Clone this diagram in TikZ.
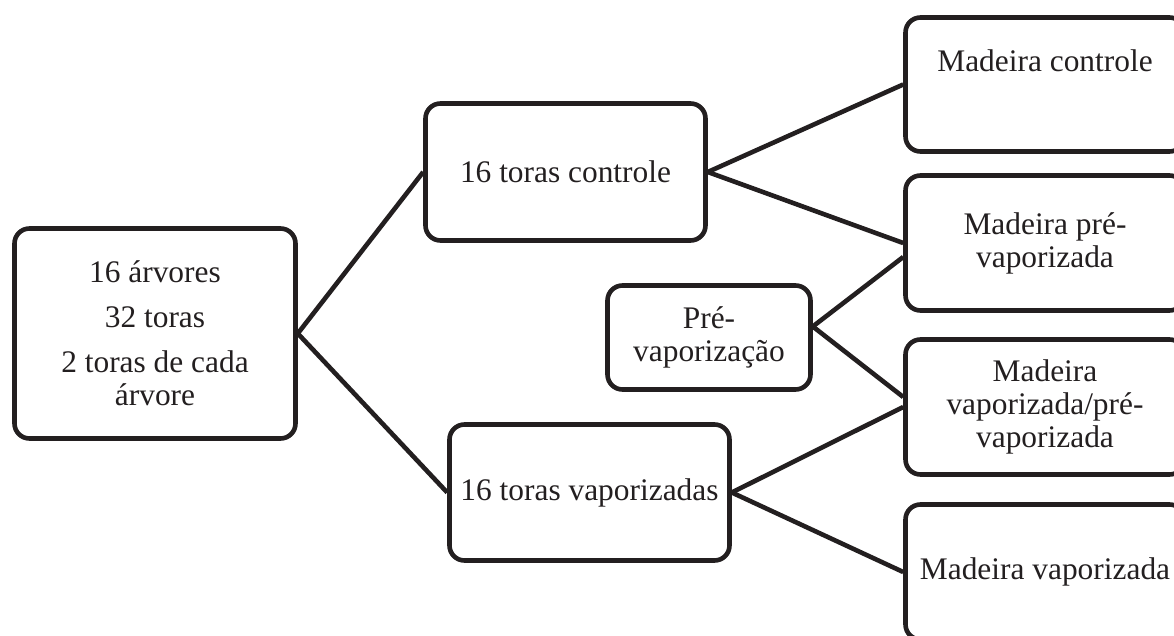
\documentclass[tikz,border=0pt]{standalone}
\usepackage{fontspec}
\setmainfont{Liberation Serif}
\usetikzlibrary{calc}
\definecolor{ink}{RGB}{35,31,32}
\begin{document}
\begin{tikzpicture}[x=1pt,y=-1pt,
  txt/.style={text=ink, font=\fontsize{31.4}{33}\selectfont, align=center, inner sep=0pt},
  box/.style={txt, draw=ink, line width=4.6pt, rounded corners=15pt},
  link/.style={draw=ink, line width=4.6pt}]
\useasboundingbox (0,0) rectangle (1174,636);
\clip (0,0) rectangle (1174,636);
\fill[white] (0,0) rectangle (1174,636);

\node[box, minimum width=281pt, minimum height=210pt] (L) at (155,333.5)
  {16 árvores\\[12pt]32 toras\\[12pt]2 toras de cada\\árvore};
\node[box, minimum width=280pt, minimum height=137pt] (C) at (565.5,172) {16 toras controle};
\node[box, minimum width=280pt, minimum height=136pt] (V) at (589.5,492.5) {16 toras vaporizadas};
\node[box, minimum width=203pt, minimum height=104pt] (P) at (709,337.5) {Pré-\\vaporização};
\node[box, minimum width=279pt, minimum height=134pt] (MC) at (1045,84.5) {};
\node[txt, anchor=base] (MCt) at (1045,72) {Madeira controle};
\node[box, minimum width=279pt, minimum height=135pt] (MP) at (1045,243) {Madeira pré-\\vaporizada};
\node[box, minimum width=279pt, minimum height=135pt] (MVP) at (1045,407) {Madeira\\vaporizada/pré-\\vaporizada};
\node[box, minimum width=279pt, minimum height=135pt] (MV) at (1045,572) {Madeira vaporizada};

\coordinate (Pout) at ($(P.east)+(0,-11)$);
\coordinate (MPin) at ($(MP.west)+(0,14)$);
\coordinate (MVPin) at ($(MVP.west)+(0,-10)$);

\draw[link] (L.east) -- (C.west);
\draw[link] (L.east) -- (V.west);
\draw[link] (C.east) -- (MC.west);
\draw[link] (C.east) -- (MP.west);
\draw[link] (Pout) -- (MPin);
\draw[link] (Pout) -- (MVPin);
\draw[link] (V.east) -- (MVP.west);
\draw[link] (V.east) -- (MV.west);
\end{tikzpicture}
\end{document}
